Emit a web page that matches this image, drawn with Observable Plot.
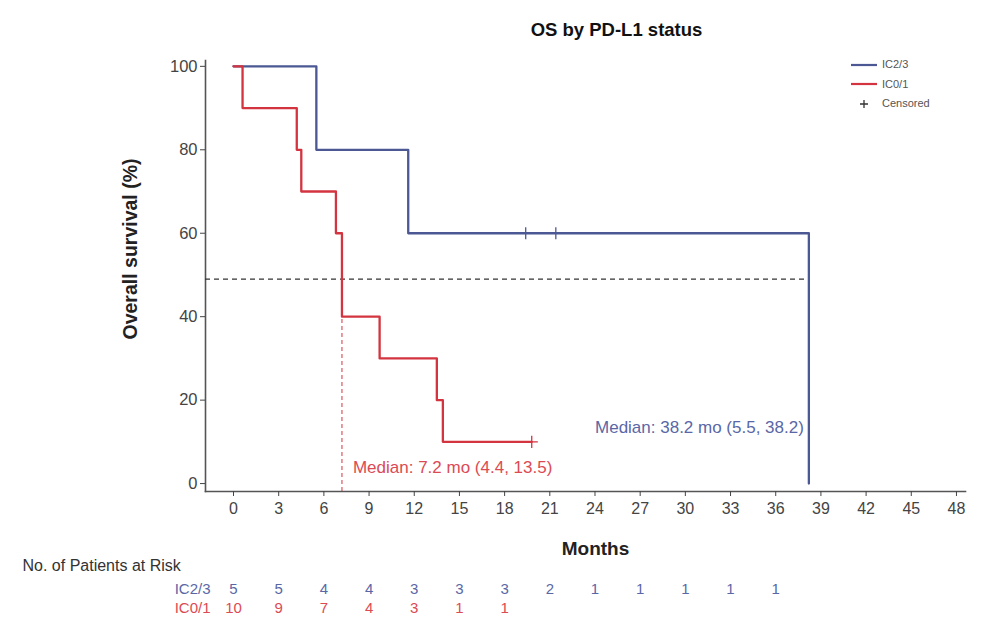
<!DOCTYPE html>
<html>
<head>
<meta charset="utf-8">
<script src="https://cdn.jsdelivr.net/npm/d3@7"></script>
<script src="https://cdn.jsdelivr.net/npm/@observablehq/plot@0.6"></script>
<style>
  html, body { margin: 0; padding: 0; background: #fff; }
  #wrap { position: relative; width: 992px; height: 632px; font-family: "Liberation Sans", Arial, sans-serif; }
  #legend { position: absolute; left: 850px; top: 55px; font-size: 11px; color: #555; line-height: 19.5px; }
  #legend .row { display: flex; align-items: center; }
  #legend svg { margin-right: 4px; }
</style>
</head>
<body>
<div id="wrap"><div id="legend"></div></div>
<script>
// ---- data ----
const groups = ["IC2/3", "IC0/1"];
const groupColors = ["#4b5894", "#d3343f"];
const textColors = ["#5a67a6", "#dc4a54"];

// Kaplan-Meier step points (months, survival %)
const ic23Time = [0, 5.5, 11.6, 38.2];
const ic23Surv = [100, 80, 60, 0];
const ic01Time = [0, 0.6, 4.2, 4.5, 6.8, 7.2, 9.7, 13.5, 13.9, 19.8];
const ic01Surv = [100, 90, 80, 70, 60, 40, 30, 20, 10, 10];

// censor marks
const ic23CensorTime = [19.4, 21.4];
const ic23CensorSurv = [60, 60];
const ic01CensorTime = [19.8];
const ic01CensorSurv = [10];

// medians
const medianLevel = 49;
const ic23Median = 38.2;
const ic01Median = 7.2;
const ic23MedianLabel = "Median: 38.2 mo (5.5, 38.2)";
const ic01MedianLabel = "Median: 7.2 mo (4.4, 13.5)";

// axes
const xTicks = [0, 3, 6, 9, 12, 15, 18, 21, 24, 27, 30, 33, 36, 39, 42, 45, 48];
const yTicks = [0, 20, 40, 60, 80, 100];

// number at risk
const riskMonths = [0, 3, 6, 9, 12, 15, 18, 21, 24, 27, 30, 33, 36];
const ic23Risk = [5, 5, 4, 4, 3, 3, 3, 2, 1, 1, 1, 1, 1];
const ic01Risk = [10, 9, 7, 4, 3, 1, 1];

const legendLabels = ["IC2/3", "IC0/1", "Censored"];
const titleText = "OS by PD-L1 status";

// ---- tables ----
const steps = [
  ...ic23Time.map((t, i) => ({g: groups[0], t, s: ic23Surv[i]})),
  ...ic01Time.map((t, i) => ({g: groups[1], t, s: ic01Surv[i]}))
];
const censors = [
  ...ic23CensorTime.map((t, i) => ({g: groups[0], t, s: ic23CensorSurv[i]})),
  ...ic01CensorTime.map((t, i) => ({g: groups[1], t, s: ic01CensorSurv[i]}))
];
const risk23 = ic23Risk.map((n, i) => ({t: riskMonths[i], n}));
const risk01 = ic01Risk.map((n, i) => ({t: riskMonths[i], n}));

const font = "Liberation Sans, Arial, sans-serif";

const chart = Plot.plot({
  width: 992,
  height: 632,
  marginLeft: 205,
  marginRight: 27,
  marginTop: 60,
  marginBottom: 141,
  style: {fontFamily: font, background: "white", overflow: "visible"},
  x: {domain: [-1.86, 48.6]},
  y: {domain: [-1.9, 101.4]},
  color: {domain: groups, range: groupColors},
  marks: [
    Plot.frame({anchor: "left", stroke: "#555", strokeWidth: 1.6}),
    Plot.frame({anchor: "bottom", stroke: "#555", strokeWidth: 1.6}),
    Plot.axisX({ticks: xTicks, tickSize: 5, tickPadding: 6, fontSize: 16, color: "#444", label: null, tickFormat: d => d}),
    Plot.axisY({ticks: yTicks, tickSize: 5, tickPadding: 3, fontSize: 16.5, color: "#444", label: null, tickFormat: d => d}),
    // median reference lines
    Plot.ruleY([medianLevel], {x1: -1.86, x2: ic23Median, stroke: "#333", strokeWidth: 1.4, strokeDasharray: "5,4"}),
    Plot.ruleX([ic01Median], {y1: -1.9, y2: medianLevel, stroke: groupColors[1], strokeWidth: 1, strokeDasharray: "4,3"}),
    // KM curves
    Plot.line(steps, {x: "t", y: "s", z: "g", stroke: "g", curve: "step-after", strokeWidth: 2.3}),
    Plot.dot(censors, {x: "t", y: "s", stroke: "g", symbol: "plus", r: 4, strokeWidth: 1.3}),
    // median labels
    Plot.text([ic01MedianLabel], {x: ic01Median, y: 0, text: d => d, textAnchor: "start", dx: 11, dy: -16, fill: textColors[1], fontSize: 17}),
    Plot.text([ic23MedianLabel], {x: ic23Median, y: 0, text: d => d, textAnchor: "end", dx: -5, dy: -56, fill: textColors[0], fontSize: 17}),
    // title
    Plot.text([titleText], {frameAnchor: "top", lineAnchor: "middle", dx: 31, dy: -30, fontWeight: "bold", fontSize: 18.5, fill: "#111"}),
    // axis titles
    Plot.text(["Months"], {frameAnchor: "bottom", lineAnchor: "middle", dx: 10, dy: 57, fontWeight: "bold", fontSize: 19, fill: "#222"}),
    Plot.text(["Overall survival (%)"], {frameAnchor: "left", textAnchor: "middle", lineAnchor: "middle", rotate: -90, dx: -75, dy: -27, fontWeight: "bold", fontSize: 19.5, fill: "#222"}),
    // risk table
    Plot.text(["No. of Patients at Risk"], {frameAnchor: "bottom-left", textAnchor: "start", lineAnchor: "middle", dx: -183, dy: 74, fontSize: 16, fill: "#333"}),
    Plot.text([groups[0]], {x: 0, frameAnchor: "bottom", textAnchor: "end", lineAnchor: "middle", dx: -23, dy: 98, fontSize: 15, fill: textColors[0]}),
    Plot.text([groups[1]], {x: 0, frameAnchor: "bottom", textAnchor: "end", lineAnchor: "middle", dx: -23, dy: 117, fontSize: 15, fill: textColors[1]}),
    Plot.text(risk23, {x: "t", text: "n", frameAnchor: "bottom", lineAnchor: "middle", dy: 98, fontSize: 15, fill: textColors[0]}),
    Plot.text(risk01, {x: "t", text: "n", frameAnchor: "bottom", lineAnchor: "middle", dy: 117, fontSize: 15, fill: textColors[1]})
  ]
});
document.getElementById("wrap").prepend(chart);

// legend
const legend = document.getElementById("legend");
legendLabels.forEach((lab, i) => {
  const row = document.createElement("div");
  row.className = "row";
  const sw = i < 2
    ? `<svg width="28" height="10"><line x1="1" x2="27" y1="5" y2="5" stroke="${groupColors[i]}" stroke-width="2.2"/></svg>`
    : `<svg width="28" height="10"><path d="M10,5h8M14,1v8" stroke="#333" stroke-width="1.3"/></svg>`;
  row.innerHTML = sw + `<span>${lab}</span>`;
  legend.appendChild(row);
});
</script>
</body>
</html>
